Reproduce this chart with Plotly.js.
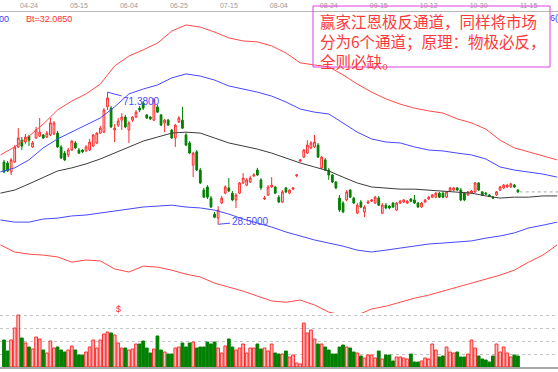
<!DOCTYPE html>
<html><head><meta charset="utf-8">
<script src="https://cdn.plot.ly/plotly-3.0.1.min.js"></script>
<style>html,body{margin:0;padding:0;background:#fff}#chart{width:558px;height:372px}</style>
</head><body><div id="chart"></div>
<script>
// Daily candles (price)
const openP = [48.7,48.4,45.5,48.7,53.6,55.8,55.2,57.1,53.6,56.5,57.1,57.5,56.8,57.5,57.8,58.1,53.6,51.6,51.0,52.6,54.9,52.6,52.6,52.3,52.6,53.9,54.9,58.1,58.4,66.6,
66.2,59.1,60.7,62.3,63.3,59.1,62.3,63.3,66.2,67.9,64.0,63.3,62.3,66.6,64.0,61.4,62.3,59.1,56.5,61.7,62.3,57.5,54.9,47.7,52.0,46.1,39.6,40.6,37.0,31.8,
30.5,35.4,38.6,40.3,38.6,36.4,38.6,41.9,41.2,42.2,44.2,46.1,42.9,36.7,38.0,40.6,40.6,37.3,35.7,40.3,38.6,39.9,44.2,49.0,50.3,51.6,53.3,53.6,54.2,46.8,
49.4,46.1,44.5,42.2,37.0,35.4,36.4,39.6,37.0,32.1,35.7,32.5,35.4,36.0,35.4,37.0,32.1,34.7,34.4,35.4,33.1,35.4,35.7,35.4,36.7,36.4,35.4,34.1,35.7,36.7,
37.3,37.3,38.6,38.6,37.3,39.3,39.6,40.3,39.6,38.6,38.0,38.6,39.0,41.9,39.0,38.6,38.0,37.3,38.0,39.6,40.3,40.6,40.6,41.2,39.6];
const closeP = [45.5,45.8,49.4,53.6,56.5,53.9,56.8,55.8,54.9,59.1,58.4,56.5,58.1,61.4,61.4,53.6,50.0,49.4,52.6,55.5,53.3,51.6,52.0,53.6,55.2,57.5,58.1,59.7,65.6,69.5,
60.1,59.7,62.0,63.3,60.1,61.4,63.3,64.9,65.6,66.2,63.0,62.7,68.8,64.9,60.7,62.3,60.7,56.5,60.7,63.0,59.7,54.2,51.6,51.6,46.1,41.9,37.3,37.3,34.1,30.8,
33.1,37.0,40.6,39.3,36.4,38.0,41.9,43.5,42.9,43.5,44.5,44.5,40.3,37.0,40.6,41.2,38.6,35.7,39.0,39.0,39.6,40.3,44.5,49.4,52.6,54.2,54.9,55.2,50.3,50.3,
46.1,44.5,42.2,40.3,33.1,32.5,39.0,37.3,35.4,34.7,34.1,34.1,35.7,36.4,37.3,34.7,34.7,33.8,33.8,34.1,35.4,36.0,36.4,36.0,36.0,35.4,34.1,35.4,36.4,37.3,
38.0,38.6,37.3,37.3,39.0,40.3,40.3,39.6,36.4,36.4,39.0,39.3,41.9,39.6,38.0,38.3,37.7,37.0,39.0,40.6,41.2,41.2,41.6,40.6,39.0];
const highP = [49.4,49.0,50.0,54.2,59.7,56.8,57.8,57.5,55.5,60.1,63.0,57.8,58.8,63.0,62.0,58.8,54.2,52.3,53.3,55.8,55.5,53.3,52.9,54.2,56.2,57.8,58.4,60.4,66.2,71.38,
66.9,61.0,63.0,64.6,64.0,62.0,63.6,65.6,66.9,68.5,64.3,63.6,69.5,67.2,64.3,62.7,62.7,59.4,61.0,63.6,66.6,58.1,55.5,52.0,52.6,46.8,40.3,41.2,37.7,32.5,
34.4,37.7,41.2,43.5,39.3,38.6,42.2,45.1,43.5,44.2,45.1,46.8,43.5,37.7,41.2,43.8,40.9,38.0,39.6,40.6,39.9,40.6,44.8,49.7,52.9,55.8,55.5,57.5,54.9,50.7,
50.0,46.8,44.8,42.5,38.0,36.0,39.6,39.9,37.3,35.4,36.4,34.7,36.4,36.7,37.7,37.7,35.4,35.4,34.7,35.7,35.7,36.4,36.7,36.4,37.0,38.0,35.7,35.7,36.7,37.7,
38.3,39.0,39.0,39.3,39.3,40.6,40.6,40.6,40.3,39.0,39.3,39.6,42.2,42.2,39.3,39.0,38.3,37.7,39.3,40.9,41.6,41.6,41.9,41.6,39.9];
const lowP = [45.1,45.5,44.5,48.4,53.3,52.6,54.5,53.9,53.3,56.2,56.8,56.2,56.5,57.1,57.5,53.3,49.7,49.0,50.3,52.3,52.9,51.3,51.6,52.0,52.3,53.6,54.5,57.8,58.1,65.6,
59.7,55.2,60.1,59.1,59.7,54.9,61.7,63.0,64.9,65.6,62.7,62.3,62.0,64.6,60.4,58.4,60.4,56.2,53.6,61.4,59.4,53.9,51.3,43.8,45.8,41.6,37.0,36.7,33.8,30.5,
28.5,35.1,38.3,39.0,36.0,33.8,38.3,41.6,40.9,41.9,43.8,44.2,39.6,36.4,37.7,40.3,38.3,35.4,35.4,38.6,38.3,39.6,43.8,48.7,50.0,51.3,52.9,53.3,50.0,46.4,
45.8,42.9,41.9,39.9,32.5,32.1,36.0,37.0,35.1,31.8,33.8,30.8,35.1,35.7,35.1,34.4,31.8,33.4,33.4,33.8,32.8,35.1,35.4,35.1,35.7,35.1,33.8,33.8,35.4,36.4,
37.0,37.0,37.0,37.0,37.0,39.0,39.3,39.3,36.0,36.0,37.7,38.3,38.6,39.3,37.7,38.0,37.3,36.7,37.7,39.3,39.9,40.3,40.3,40.3,38.6];
// Volume (thousand lots)
const volume = [27,16,27,39,52,29,24,20,18,30,28,17,14,26,19,20,17,15,17,21,17,12,12,15,20,27,19,27,33,35,
34,32,24,19,19,17,18,23,23,26,19,14,18,31,17,15,13,13,19,20,24,20,24,25,19,20,20,25,23,25,
19,14,21,28,20,17,19,23,14,19,19,23,18,19,16,23,14,13,13,16,10,12,4,3,44,34,37,28,23,23,
20,17,13,13,20,22,20,19,15,14,11,9,12,12,9,16,8,12,12,6,10,10,9,8,13,5,5,6,9,8,
23,17,10,11,20,15,14,15,10,10,13,27,19,11,8,7,5,11,23,15,20,14,10,12,11];
// Date ticks (bar index -> label)
const tickIdx = [7,21,35,49,63,77,91,105,119,133,147];
const tickDates = ['04-24','05-15','06-04','06-25','07-15','08-04','08-24','09-15','10-12','10-30','11-15'];
// Channel lines sampled at bar index
const lineIdx = [-1,3,7,11,15,19,23,27,31,35,39,43,47,51,55,59,63,67,71,75,79,83,87,91,95,99,103,107,111,115,119,123,127,131,135,139,143,147,151,155];
const upperRed = [51.0,53.6,57.1,61.0,65.6,68.5,70.8,74.0,79.9,83.1,85.1,87.3,91.2,93.2,92.5,90.9,89.0,88.0,87.7,86.4,84.1,80.9,80.2,79.6,77.0,74.0,71.4,69.2,67.5,66.2,65.3,64.6,62.7,61.4,59.4,55.8,53.3,52.0,50.7,49.4];
const upperBlue = [45.5,46.8,49.4,53.3,56.2,58.4,60.7,63.0,66.6,70.8,72.4,73.7,76.0,77.3,76.6,75.3,73.4,72.4,71.4,70.1,68.2,65.9,64.9,64.3,61.4,58.4,56.2,55.2,54.9,53.6,52.6,52.3,51.6,51.0,49.7,47.1,46.1,45.5,44.8,43.8];
const midLine = [38.6,39.6,41.6,43.8,45.8,46.8,48.1,49.7,51.6,53.6,55.5,56.8,58.1,58.4,58.1,56.5,54.9,53.9,52.9,51.6,50.0,48.4,47.1,45.8,43.8,41.9,40.6,40.3,39.9,39.9,39.6,39.3,39.0,38.6,37.7,37.0,37.3,37.3,37.7,37.7];
const lowerBlue = [29.9,29.2,29.2,30.2,30.5,31.2,31.5,32.1,32.8,33.4,34.1,34.4,34.7,34.1,33.8,33.1,31.8,30.2,28.9,27.6,26.0,24.7,23.4,22.4,21.4,20.1,19.5,20.1,20.8,21.4,22.1,22.4,22.7,23.1,24.0,24.7,25.7,27.3,28.2,29.2];
const lowerRed = [21.8,19.5,18.8,18.5,17.9,16.2,16.9,16.6,14.0,13.0,14.9,14.6,13.6,12.3,11.4,9.4,8.1,6.8,5.2,3.6,3.2,3.9,2.3,0.0,-1.0,-1.0,1.0,1.9,3.2,4.5,5.5,6.8,8.1,9.4,10.7,12.0,13.6,16.2,18.5,21.8];
const noteLines = ['赢家江恩极反通道，同样将市场','分为6个通道；原理：物极必反，','全则必缺。'];
const btText = 'Bt=32.0850';
const dividendIdx = 32;

const N = closeP.length;
const xs = Array.from({length:N}, (_, i) => i);
const RED = '#ff2a2a', GREEN = '#008000';
const volColors = xs.map(i => closeP[i] >= openP[i] ? '#ffbdbd' : GREEN);
const volLine = xs.map(i => closeP[i] >= openP[i] ? RED : GREEN);
const xMax = 155.23;

function ln(y, color, w) {
  return {type:'scatter', mode:'lines', x:lineIdx, y:y, xaxis:'x', yaxis:'y',
    line:{color:color, width:w||1}, hoverinfo:'skip', cliponaxis:true};
}
const traces = [
  ln(upperRed, '#ff4a4a'), ln(upperBlue, '#4848ff'), ln(midLine, '#3c3c3c'),
  ln(lowerBlue, '#4848ff'), ln(lowerRed, '#ff4a4a'),
  {type:'scatter', mode:'lines', x:[N-0.5, xMax], y:[closeP[N-1], closeP[N-1]], xaxis:'x', yaxis:'y',
    line:{color:'#aaaaaa', width:1, dash:'dot'}, hoverinfo:'skip'},
  {type:'candlestick', x:xs, open:openP, high:highP, low:lowP, close:closeP, xaxis:'x', yaxis:'y',
    increasing:{line:{color:RED, width:1}, fillcolor:'#ffe4e4'},
    decreasing:{line:{color:GREEN, width:1}, fillcolor:GREEN},
    whiskerwidth:0, hoverinfo:'skip'},
  {type:'bar', x:xs, y:volume, xaxis:'x2', yaxis:'y2', width:0.78,
    marker:{color:volColors, line:{color:volLine, width:1}}, hoverinfo:'skip'}
];

const hiIdx = highP.indexOf(Math.max(...highP));
const loIdx = lowP.indexOf(Math.min(...lowP));
const H = 355, T = 12;
const py = p => (367 - p) / H; // pixel y -> paper
const px = p => p / 558;

const annotations = [
  {x:hiIdx, y:highP[hiIdx], xref:'x', yref:'y', text:highP[hiIdx].toFixed(4), showarrow:true, arrowhead:0,
    arrowwidth:1, arrowcolor:'#4a4aff', ax:34, ay:9, standoff:0, font:{size:10, color:'#4a4aff', family:'Liberation Sans'}},
  {x:loIdx, y:lowP[loIdx], xref:'x', yref:'y', text:lowP[loIdx].toFixed(4), showarrow:true, arrowhead:0,
    arrowwidth:1, arrowcolor:'#4a4aff', ax:32, ay:-3, standoff:0, font:{size:10, color:'#4a4aff', family:'Liberation Sans'}},
  {x:dividendIdx, y:0.9, xref:'x', yref:'y', text:'$', showarrow:false, yanchor:'middle',
    font:{size:9, color:'#ff3030', family:'Liberation Sans'}},
  {x:px(11), y:py(19), xref:'paper', yref:'paper', text:'00', xanchor:'right', yanchor:'middle', showarrow:false,
    font:{size:9, color:'#3a3aff', family:'Liberation Sans'}},
  {x:px(24), y:py(19), xref:'paper', yref:'paper', text:btText, xanchor:'left', yanchor:'middle', showarrow:false,
    font:{size:9, color:'#ff3030', family:'Liberation Sans'}},
  {x:px(548), y:py(18), xref:'paper', yref:'paper', text:'6(', xanchor:'left', yanchor:'middle', showarrow:false,
    font:{size:9, color:'#3a3aff', family:'Liberation Sans'}},
  {x:px(318), y:py(41), xref:'paper', yref:'paper', text:noteLines.join('<br>'), align:'left',
    xanchor:'left', yanchor:'middle', showarrow:false, font:{size:15.5, color:'#ff3a3a', family:'Noto Sans CJK SC'}}
];

const layout = {
  width:558, height:372, margin:{l:0, r:0, t:T, b:5},
  paper_bgcolor:'#ffffff', plot_bgcolor:'#ffffff', showlegend:false,
  font:{family:'Liberation Sans'},
  xaxis:{domain:[0,1], range:[-1.12, xMax], side:'top', anchor:'y', tickvals:tickIdx, ticktext:tickDates,
    tickfont:{size:7, color:'#9a9a9a'}, showline:true, linecolor:'#b8b8b8', linewidth:1, mirror:false,
    showgrid:false, zeroline:false, ticks:'', rangeslider:{visible:false}, fixedrange:true},
  yaxis:{domain:[54/H, 1], range:[-0.3, 97.4], showgrid:false, zeroline:false, showticklabels:false, showline:false, fixedrange:true},
  xaxis2:{anchor:'y2', domain:[0,1], range:[-1.12, xMax], showticklabels:false, showline:true, linecolor:'#a8a8a8',
    linewidth:2, showgrid:false, zeroline:false, ticks:'', fixedrange:true},
  yaxis2:{domain:[0, 54/H], range:[0, 54], tick0:0, dtick:13, showgrid:true, gridcolor:'#c4c4c4', griddash:'dot',
    gridwidth:1, showticklabels:false, zeroline:false, showline:false, fixedrange:true},
  shapes:[{type:'rect', xref:'paper', yref:'paper', x0:px(313), x1:px(550), y0:py(67), y1:py(6),
    line:{color:'#e040e0', width:1}, fillcolor:'rgba(0,0,0,0)'}],
  annotations:annotations
};
Plotly.newPlot('chart', traces, layout, {staticPlot:true, displayModeBar:false});
</script>
</body></html>
